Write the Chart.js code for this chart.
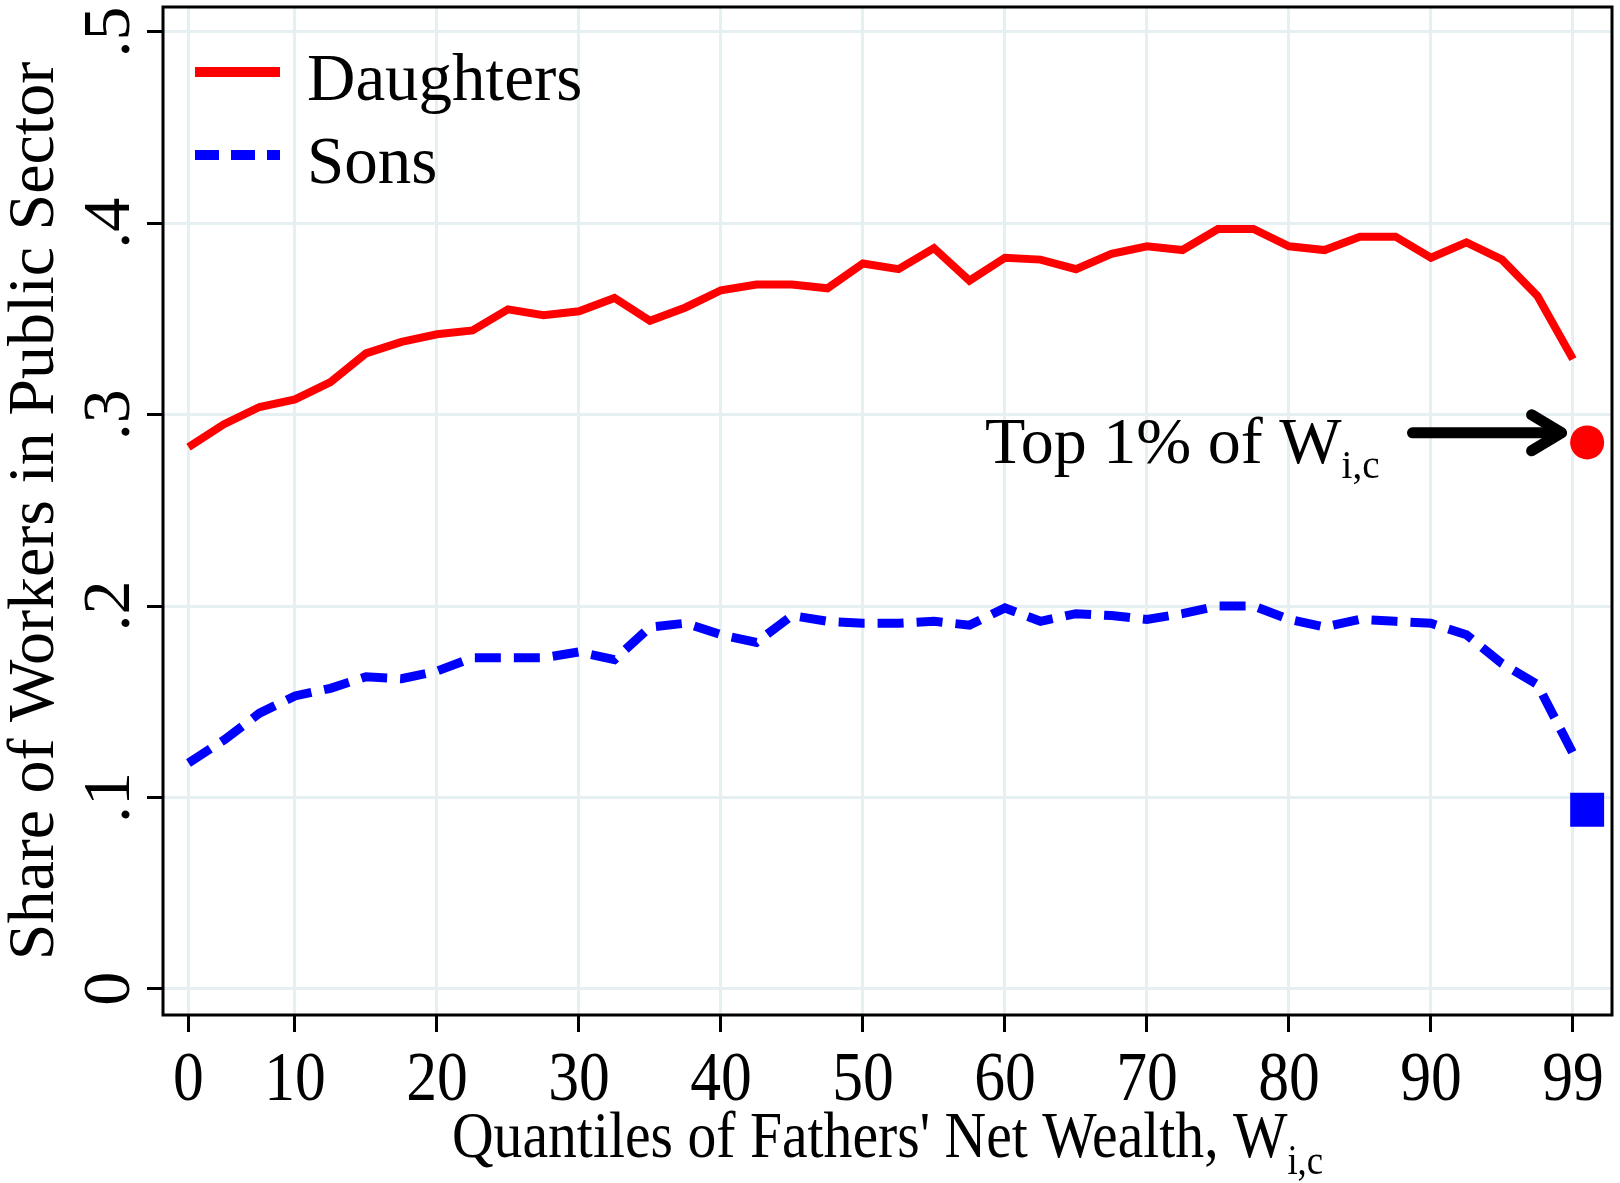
<!DOCTYPE html>
<html lang="en">
<head>
<meta charset="UTF-8">
<title>Public sector share by fathers' wealth</title>
<script src="https://cdn.jsdelivr.net/npm/chart.js"></script>
<style>
  html, body { margin: 0; padding: 0; background: #fff; overflow: hidden; }
  canvas { display: block; }
</style>
</head>
<body>
<canvas id="chart" width="1620" height="1183"></canvas>
<script>
// quantile bins (2.5 pt steps), first bin shown as "0", last as "99"
const quantiles = [2.5, 5, 7.5, 10, 12.5, 15, 17.5, 20, 22.5, 25, 27.5, 30, 32.5, 35, 37.5, 40,
                   42.5, 45, 47.5, 50, 52.5, 55, 57.5, 60, 62.5, 65, 67.5, 70, 72.5, 75, 77.5, 80,
                   82.5, 85, 87.5, 90, 92.5, 95, 97.5, 100];
const daughters = [0.283, 0.295, 0.304, 0.308, 0.317, 0.332, 0.338, 0.342, 0.344, 0.355,
                   0.352, 0.354, 0.361, 0.349, 0.356, 0.365, 0.368, 0.368, 0.366, 0.379,
                   0.376, 0.387, 0.370, 0.382, 0.381, 0.376, 0.384, 0.388, 0.386, 0.397,
                   0.397, 0.388, 0.386, 0.393, 0.393, 0.382, 0.390, 0.381, 0.362, 0.329];
const sons = [0.118, 0.130, 0.144, 0.153, 0.157, 0.163, 0.162, 0.166, 0.173, 0.173,
              0.173, 0.176, 0.172, 0.189, 0.191, 0.185, 0.181, 0.195, 0.192, 0.191,
              0.191, 0.192, 0.190, 0.199, 0.192, 0.196, 0.195, 0.193, 0.196, 0.200,
              0.200, 0.193, 0.189, 0.193, 0.192, 0.191, 0.185, 0.170, 0.159, 0.123];

// top 1% markers
const top1X = 101;
const top1Daughters = 0.2855;
const top1Sons = 0.0935;

const xTickValues = [2.5, 10, 20, 30, 40, 50, 60, 70, 80, 90, 100];
const xTickLabels = ['0', '10', '20', '30', '40', '50', '60', '70', '80', '90', '99'];
const yTickValues = [0, 0.1, 0.2, 0.3, 0.4, 0.5];
const yTickLabels = ['0', '.1', '.2', '.3', '.4', '.5'];

const FONT = '"Liberation Serif", "Times New Roman", serif';
const GRID = '#e6eff1';

function txt(ctx, s, x, y, size, align, rot, sx) {
    ctx.save();
    ctx.translate(x, y);
    if (rot) ctx.rotate(rot);
    ctx.scale(sx || 1, 1);
    ctx.font = size + 'px ' + FONT;
    ctx.textAlign = align || 'left';
    ctx.textBaseline = 'alphabetic';
    ctx.fillStyle = '#000';
    ctx.fillText(s, 0, 0);
    ctx.restore();
}

function width(ctx, s, size, sx) {
    ctx.font = size + 'px ' + FONT;
    return ctx.measureText(s).width * (sx || 1);
}

const stataText = {
    id: 'stataText',
    afterDraw(chart) {
        const ctx = chart.ctx;
        const a = chart.chartArea;
        const x = chart.scales.x, y = chart.scales.y;

        // frame
        ctx.save();
        ctx.strokeStyle = '#000';
        ctx.lineWidth = 3;
        ctx.strokeRect(a.left, a.top, a.right - a.left, a.bottom - a.top);
        ctx.restore();

        // y tick labels, rotated
        yTickValues.forEach((v, i) => {
            txt(ctx, yTickLabels[i], 129, y.getPixelForValue(v), 68, 'center', -Math.PI / 2);
        });
        // y title
        txt(ctx, 'Share of Workers in Public Sector', 53, (a.top + a.bottom) / 2, 66, 'center', -Math.PI / 2);

        // x tick labels
        xTickValues.forEach((v, i) => {
            txt(ctx, xTickLabels[i], x.getPixelForValue(v), 1100, 70, 'center', 0, 0.88);
        });

        // x title with subscript
        const main = "Quantiles of Fathers' Net Wealth, W";
        const wMain = width(ctx, main, 66, 0.874);
        const wSub = width(ctx, 'i,c', 42, 0.874);
        const x0 = (a.left + a.right) / 2 - (wMain + wSub) / 2;
        txt(ctx, main, x0, 1157, 66, 'left', 0, 0.874);
        txt(ctx, 'i,c', x0 + wMain, 1174, 42, 'left', 0, 0.874);

        // legend
        ctx.save();
        ctx.lineWidth = 10;
        ctx.strokeStyle = '#ff0000';
        ctx.beginPath(); ctx.moveTo(195, 72); ctx.lineTo(280, 72); ctx.stroke();
        ctx.strokeStyle = '#0000ff';
        ctx.setLineDash([24, 12]);
        ctx.beginPath(); ctx.moveTo(195, 155); ctx.lineTo(280, 155); ctx.stroke();
        ctx.restore();
        txt(ctx, 'Daughters', 307, 100, 67);
        txt(ctx, 'Sons', 307, 183, 67);

        // annotation for top 1%
        const ax = x.getPixelForValue(58.6), ay = y.getPixelForValue(0.2749);
        const wTop = width(ctx, 'Top 1% of W', 66);
        txt(ctx, 'Top 1% of W', ax, ay, 66);
        txt(ctx, 'i,c', ax + wTop, ay + 15, 39);
        const tipX = x.getPixelForValue(99.2), tipY = y.getPixelForValue(0.2905);
        const tailX = x.getPixelForValue(88.7);
        ctx.save();
        ctx.strokeStyle = '#000';
        ctx.lineWidth = 11;
        ctx.lineCap = 'round';
        ctx.lineJoin = 'round';
        ctx.beginPath(); ctx.moveTo(tailX, tipY); ctx.lineTo(tipX - 4, tipY); ctx.stroke();
        ctx.beginPath();
        ctx.moveTo(tipX - 30, tipY - 18); ctx.lineTo(tipX, tipY); ctx.lineTo(tipX - 30, tipY + 18);
        ctx.stroke();
        ctx.restore();
    }
};

const ctx = document.getElementById('chart').getContext('2d');
new Chart(ctx, {
    type: 'line',
    data: {
        datasets: [
            {
                label: 'Daughters',
                data: quantiles.map((q, i) => ({x: q, y: daughters[i]})),
                borderColor: '#ff0000',
                borderWidth: 8,
                pointRadius: 0,
                tension: 0,
                fill: false
            },
            {
                label: 'Sons',
                data: quantiles.map((q, i) => ({x: q, y: sons[i]})),
                borderColor: '#0000ff',
                borderWidth: 9,
                borderDash: [26, 13],
                pointRadius: 0,
                tension: 0,
                fill: false
            },
            {
                label: 'Top 1% daughters',
                data: [{x: top1X, y: top1Daughters}],
                showLine: false,
                pointStyle: 'circle',
                pointRadius: 17,
                pointBorderWidth: 0,
                pointBackgroundColor: '#ff0000',
                clip: false
            },
            {
                label: 'Top 1% sons',
                data: [{x: top1X, y: top1Sons}],
                showLine: false,
                pointStyle: 'rect',
                pointRadius: 24,
                pointBorderWidth: 0,
                pointBackgroundColor: '#0000ff',
                clip: false
            }
        ]
    },
    options: {
        responsive: false,
        devicePixelRatio: 1,
        animation: false,
        layout: {autoPadding: false, padding: {top: 7, right: 8, left: 0, bottom: 0}},
        plugins: {legend: {display: false}, tooltip: {enabled: false}},
        scales: {
            x: {
                type: 'linear',
                min: 0.704,
                max: 102.75,
                afterBuildTicks: s => { s.ticks = xTickValues.map(v => ({value: v})); },
                afterFit: s => { s.height = 168; },
                ticks: {display: false},
                grid: {color: GRID, lineWidth: 3, tickColor: '#000', tickWidth: 3, tickLength: 17},
                border: {display: false}
            },
            y: {
                type: 'linear',
                min: -0.0137,
                max: 0.513,
                afterBuildTicks: s => { s.ticks = yTickValues.map(v => ({value: v})); },
                afterFit: s => { s.width = 163; },
                ticks: {display: false},
                grid: {color: GRID, lineWidth: 3, tickColor: '#000', tickWidth: 3, tickLength: 16},
                border: {display: false}
            }
        }
    },
    plugins: [stataText]
});
</script>
</body>
</html>
